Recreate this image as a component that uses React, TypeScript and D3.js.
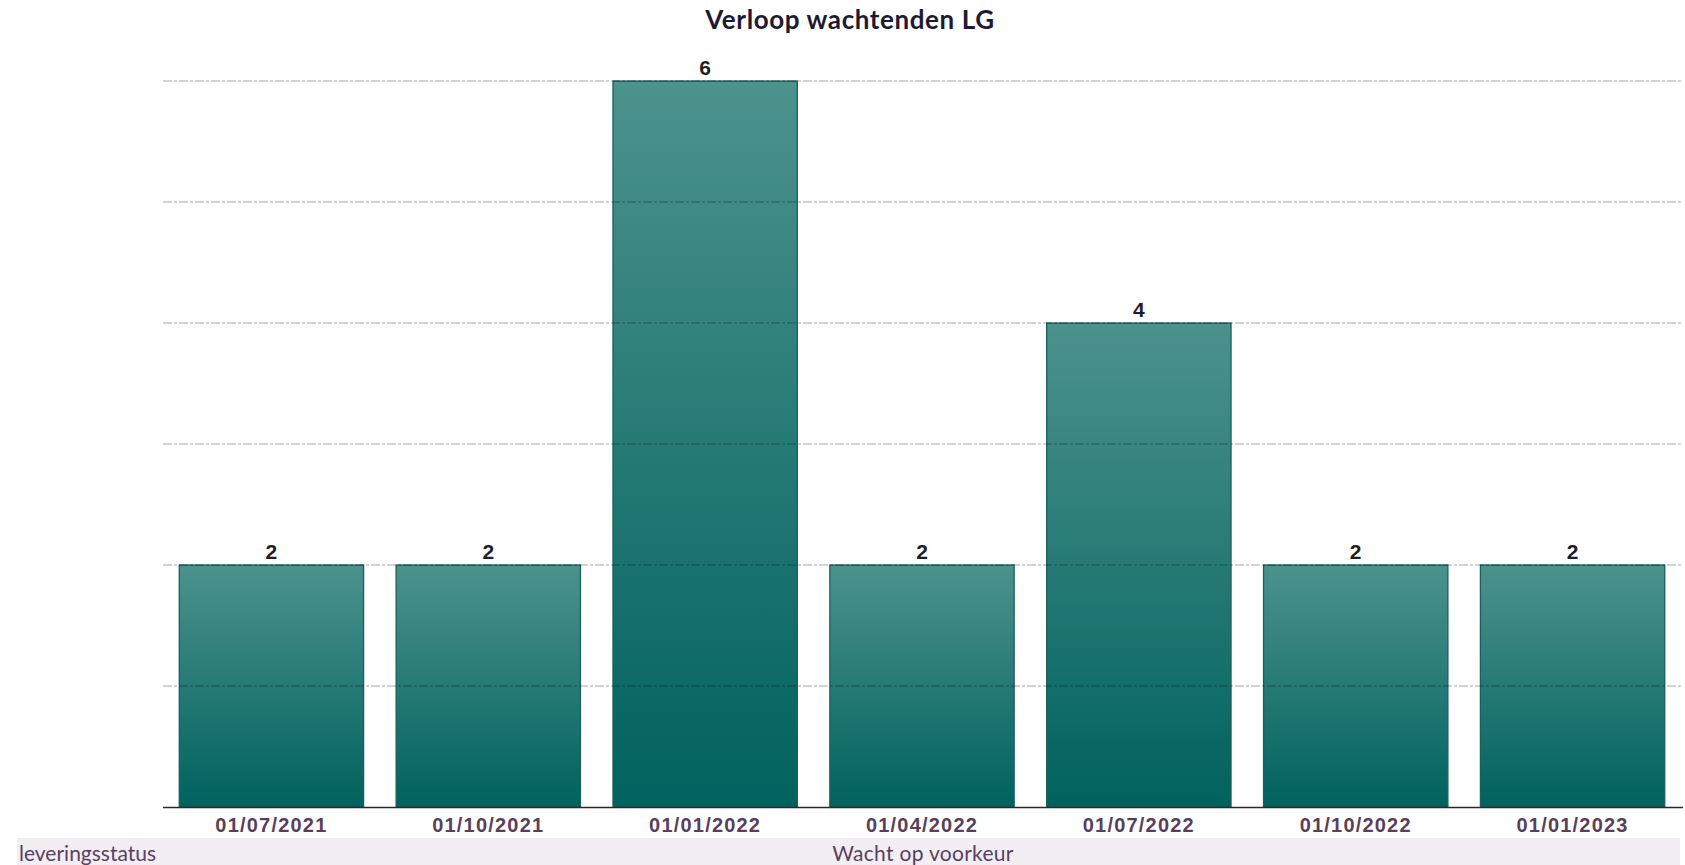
import React from "react";
import * as d3 from "d3";

const title = "Verloop wachtenden LG";
const categories = ["01/07/2021", "01/10/2021", "01/01/2022", "01/04/2022", "01/07/2022", "01/10/2022", "01/01/2023"];
const values = [2, 2, 6, 2, 4, 2, 2];
const gridTicks = [1, 2, 3, 4, 5, 6];
const rowHeader = "leveringsstatus";
const groupLabel = "Wacht op voorkeur";

const W = 1685;
const H = 865;

export default function App() {
  const x = d3.scaleBand<string>().domain(categories).range([163, 1681]).paddingInner(0.15).paddingOuter(0.075);
  const y = d3.scaleLinear().domain([0, 6]).range([807, 81]);
  const plotLeft = 163;
  const plotRight = 1683;

  return (
    <svg
      width={W}
      height={H}
      style={{ position: "absolute", left: 0, top: 0, background: "#fff" }}
      fontFamily="Liberation Sans, Arial, sans-serif"
    >
      <defs>
        <linearGradient id="barGrad" x1="0" y1="0" x2="0" y2="1">
          <stop offset="0%" stopColor="#4c928d" />
          <stop offset="100%" stopColor="#00625e" />
        </linearGradient>
      </defs>

      <text x={850} y={29} textAnchor="middle" fontFamily="Lato, sans-serif" fontWeight={700} fontSize={26} letterSpacing={0.6} fill="#1e1a33">
        {title}
      </text>

      {categories.map((c, i) => (
        <rect
          key={c}
          x={x(c)}
          y={y(values[i])}
          width={x.bandwidth()}
          height={y(0) - y(values[i])}
          fill="url(#barGrad)"
          stroke="#1b5f5a"
          strokeWidth={1.3}
        />
      ))}

      {gridTicks.map((t) => (
        <line
          key={t}
          x1={plotLeft}
          x2={plotRight}
          y1={y(t)}
          y2={y(t)}
          stroke="rgba(0,0,0,0.35)"
          strokeWidth={1}
          strokeDasharray="9,2,3,2"
        />
      ))}

      <line x1={plotLeft} x2={plotRight} y1={y(0) + 0.5} y2={y(0) + 0.5} stroke="#2a2a2a" strokeWidth={1.5} />

      {categories.map((c, i) => (
        <text
          key={"v" + c}
          x={(x(c) as number) + x.bandwidth() / 2}
          y={y(values[i]) - 6}
          textAnchor="middle"
          fontWeight={700}
          fontSize={21}
          fill="#1e1e2a"
        >
          {values[i]}
        </text>
      ))}

      {categories.map((c) => (
        <text
          key={"c" + c}
          x={(x(c) as number) + x.bandwidth() / 2}
          y={832}
          textAnchor="middle"
          fontWeight={700}
          fontSize={20}
          letterSpacing={1.2}
          fill="#5a3f5c"
        >
          {c}
        </text>
      ))}

      <rect x={17} y={838} width={1663} height={27} fill="#f3eef4" />
      <text x={19} y={861} fontFamily="Lato, sans-serif" fontSize={21} fill="#5a4060">
        {rowHeader}
      </text>
      <text x={(plotLeft + plotRight) / 2} y={861} textAnchor="middle" fontFamily="Lato, sans-serif" fontSize={21} letterSpacing={0.3} fill="#5a4060">
        {groupLabel}
      </text>
    </svg>
  );
}
